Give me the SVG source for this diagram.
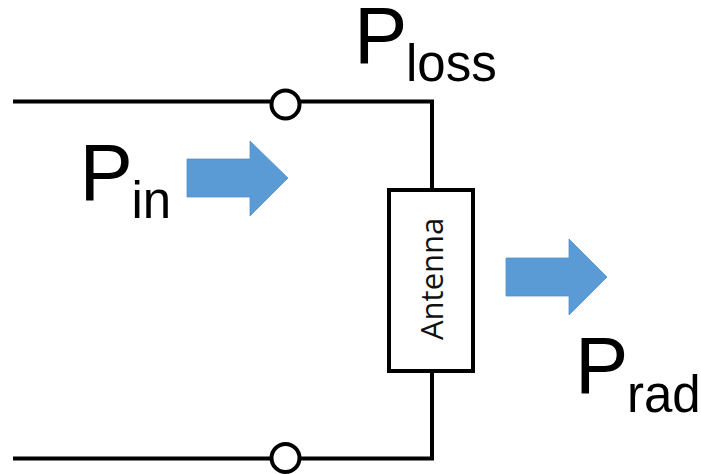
<svg xmlns="http://www.w3.org/2000/svg" width="701" height="474" viewBox="0 0 701 474">
<style>
.w{fill:none;stroke:#000;stroke-width:4}
.t{fill:#fff;stroke:#000;stroke-width:4}
.a{fill:#5b9bd5;stroke:#4f8fc9;stroke-width:.75}
.l{font-family:"Liberation Sans",Arial,sans-serif;fill:#000}
.b{font-size:80px}
.s{font-size:51px}
</style>
<rect width="701" height="474" fill="#fff"/>
<g id="connectors">
<path class="w" d="M13 101.500H432V190"/>
<path class="w" d="M13 458.500H432V371"/>
</g>
<g id="terminal-top"><circle class="t" cx="285.500" cy="104.500" r="14"/></g>
<g id="terminal-bottom"><circle class="t" cx="285.500" cy="458" r="14"/></g>
<g id="antenna">
<rect class="t" x="389" y="190" width="84" height="181"/>
<text transform="translate(442.500 340) rotate(-90)" font-family="'Open Sans',sans-serif" font-size="31" fill="#111">Antenna</text>
</g>
<g id="arrow-in"><polygon class="a" points="187,159 250,159 250,141 288,178 250,216 250,197 187,197"/></g>
<g id="arrow-rad"><polygon class="a" points="506,258 569,258 569,239 607,277 569,315 569,296 506,296"/></g>
<g id="label-loss"><text class="l b" x="354" y="63">P</text><text class="l s" x="406" y="81">loss</text></g>
<g id="label-in"><text class="l b" x="79.500" y="200">P</text><text class="l s" x="131.500" y="218">in</text></g>
<g id="label-rad"><text class="l b" x="575" y="393">P</text><text class="l s" x="627" y="412">rad</text></g>
</svg>
